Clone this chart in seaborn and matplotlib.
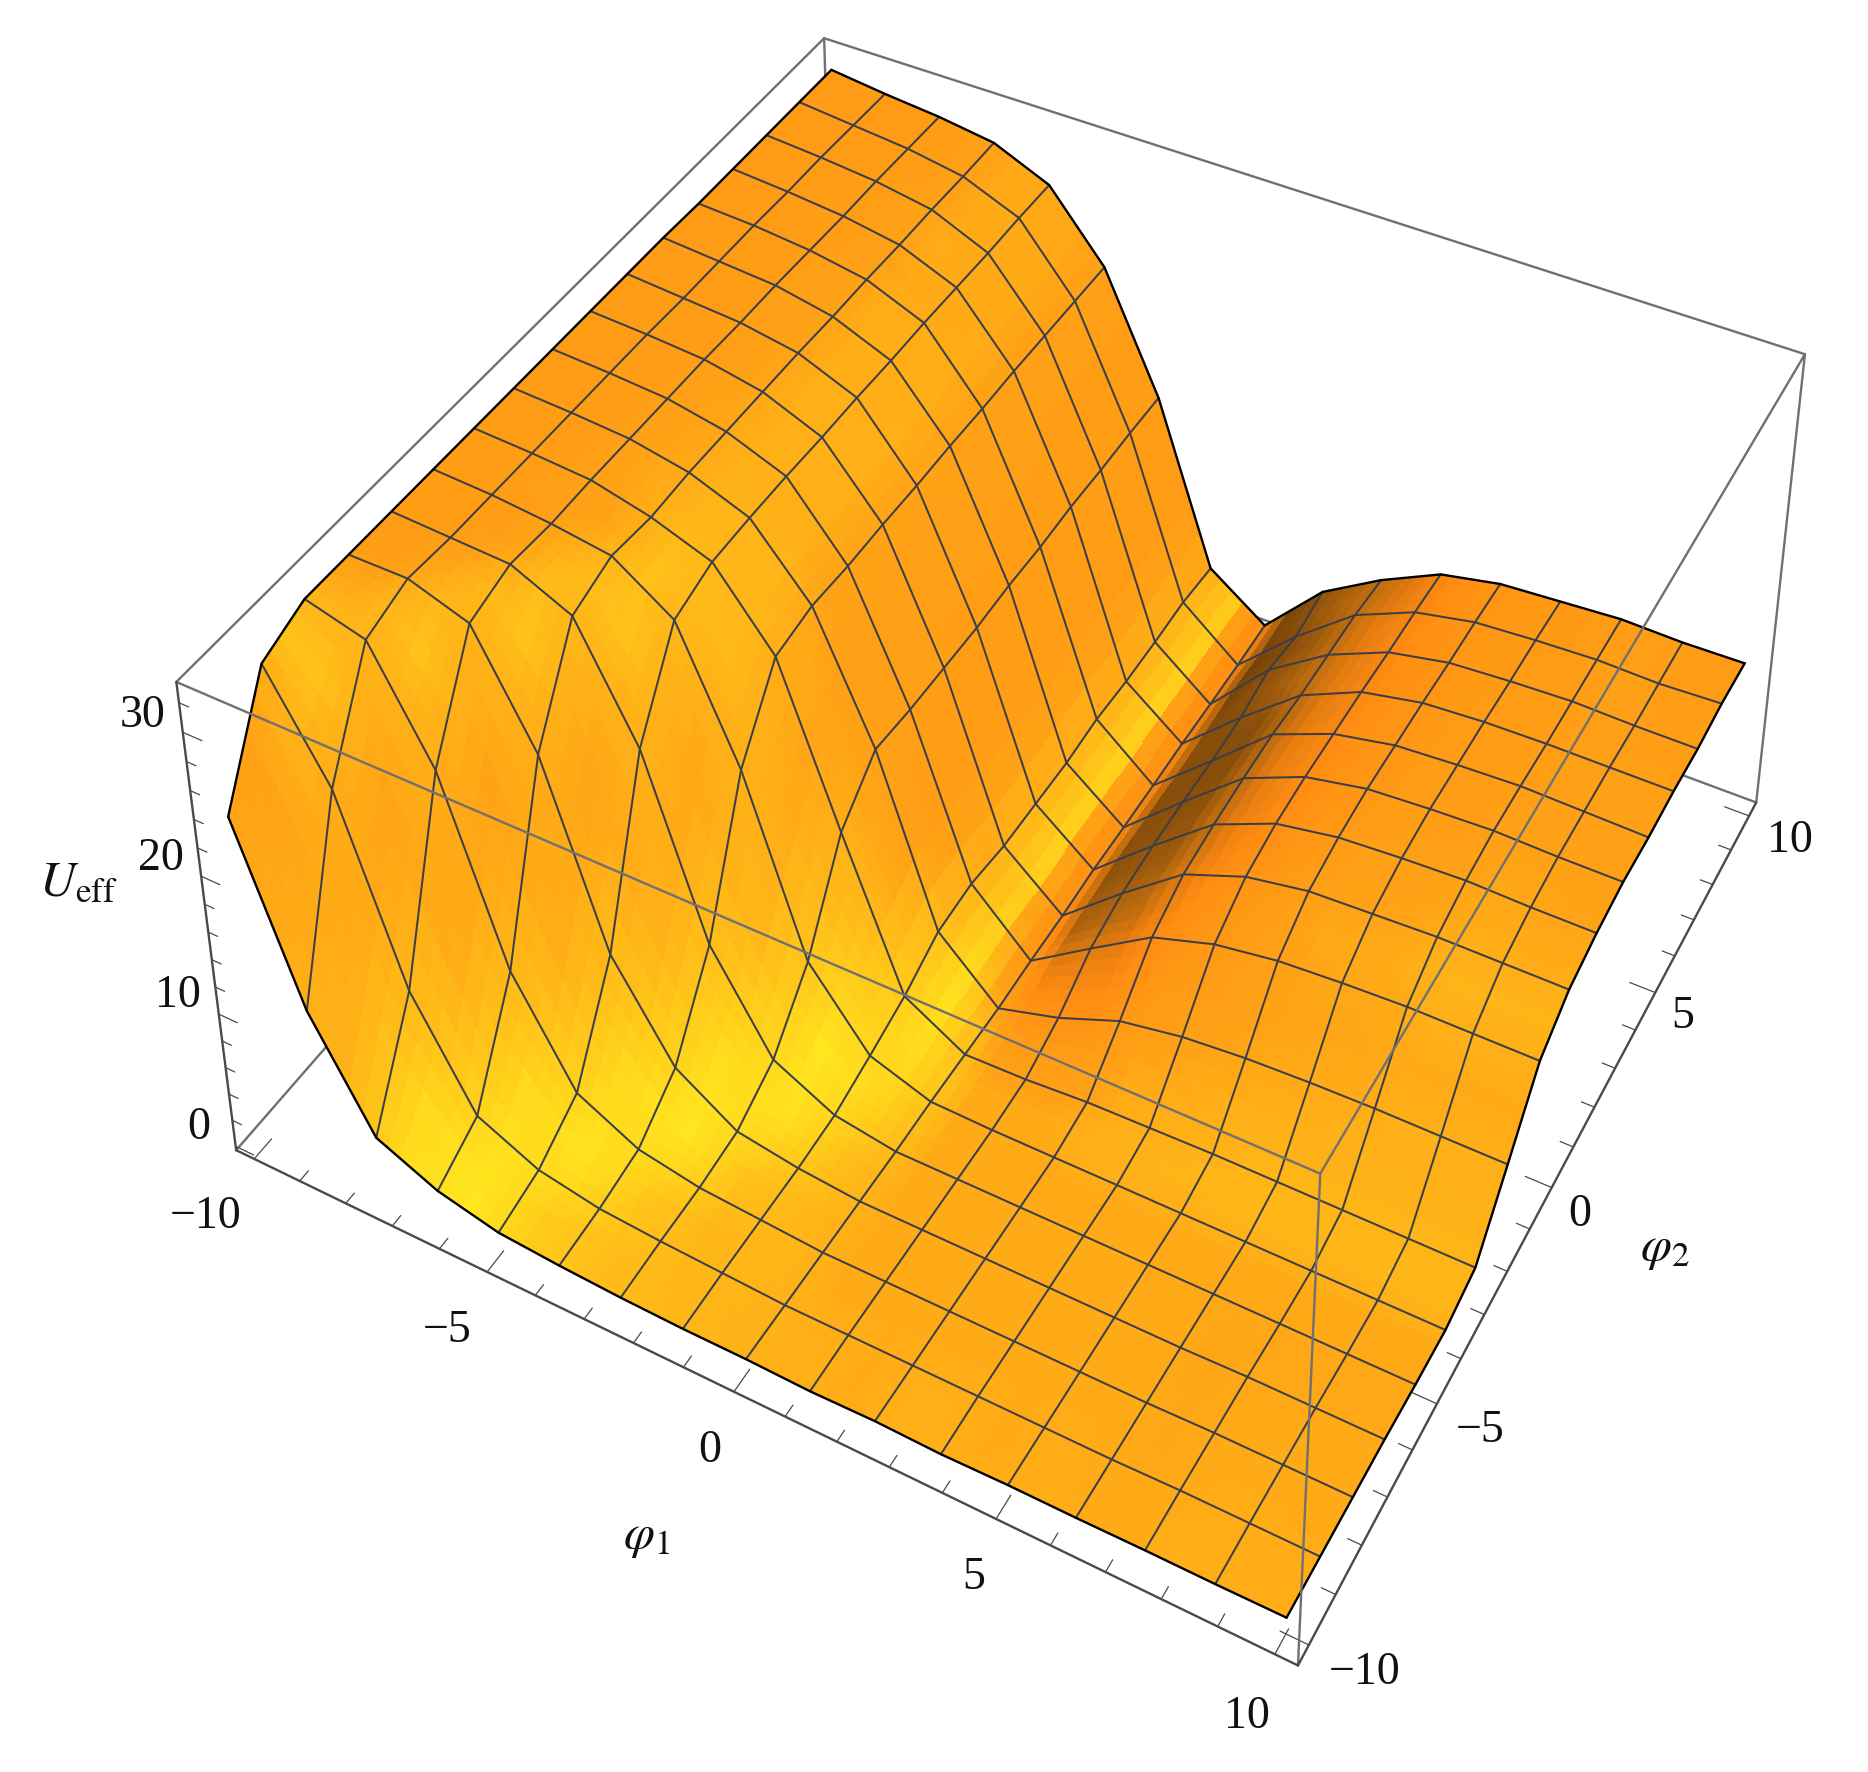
import numpy as np
import matplotlib
matplotlib.use("Agg")
import matplotlib.pyplot as plt
import seaborn as sns

# values, rows are phi2 = -10..10, columns phi1 = -10..10
phi1 = np.linspace(-10, 10, 17)
phi2 = np.linspace(-10, 10, 17)
u_eff = [
    [23.7, 11.7, 4.3, 2.4, 1.4, 1.1, 0.9, 0.8, 0.8, 0.7, 0.8, 0.7, 0.8, 0.8, 0.85, 0.85, 0.9],
    [31.0, 24.1, 11.5, 4.2, 2.2, 1.4, 1.1, 0.9, 0.7, 0.7, 0.7, 0.7, 0.7, 0.7, 0.8, 0.8, 0.8],
    [32.3, 31.2, 23.9, 11.3, 4.2, 2.0, 1.2, 0.9, 0.6, 0.6, 0.6, 0.6, 0.6, 0.6, 0.7, 0.7, 0.7],
    [32.3, 32.3, 30.9, 23.5, 10.9, 4.4, 1.6, 0.9, 0.5, 0.5, 0.5, 0.5, 0.5, 0.5, 0.6, 0.6, 0.6],
    [32.3, 32.1, 31.9, 30.0, 22.4, 10.0, 3.3, 1.1, 0.4, 0.4, 0.4, 0.4, 0.4, 0.4, 0.4, 0.4, 0.4],
    [32.3, 32.1, 31.7, 31.1, 28.3, 19.4, 7.1, 1.9, 0.4, 0.3, 0.3, 0.3, 0.3, 0.3, 0.3, 0.3, 0.3],
    [32.3, 32.1, 31.8, 30.8, 29.3, 24.3, 13.3, 2.8, 0.3, 0.4, 0.7, 0.8, 0.9, 0.9, 0.9, 0.9, 0.9],
    [32.3, 32.1, 31.8, 31.0, 29.4, 24.8, 16.1, 4.2, 0.2, 1.45, 3.2, 4.0, 4.4, 4.6, 4.7, 4.7, 4.7],
    [32.3, 32.1, 31.8, 31.0, 29.4, 24.6, 15.8, 4.4, 0.3, 3.2, 6.0, 7.4, 8.1, 8.4, 8.6, 8.6, 8.6],
    [32.3, 32.1, 31.8, 31.0, 29.3, 24.6, 15.7, 3.9, 0.3, 3.95, 7.3, 9.0, 9.8, 10.0, 10.2, 10.2, 10.2],
    [32.3, 32.0, 31.7, 31.0, 29.3, 24.5, 15.6, 3.8, 0.45, 4.2, 7.7, 9.6, 10.4, 10.7, 10.9, 10.8, 10.8],
    [32.3, 32.0, 31.7, 30.9, 29.2, 24.5, 15.7, 3.7, 0.4, 4.25, 7.9, 9.8, 10.7, 11.0, 11.2, 11.1, 11.1],
    [32.2, 32.0, 31.6, 30.9, 29.2, 24.4, 15.6, 3.9, 0.4, 4.15, 8.0, 9.8, 10.7, 11.0, 11.2, 11.1, 11.0],
    [32.2, 31.9, 31.5, 30.8, 29.1, 24.4, 15.7, 3.7, 0.45, 4.3, 7.8, 9.8, 10.7, 11.0, 11.1, 11.1, 11.1],
    [32.2, 31.9, 31.5, 30.8, 29.0, 24.3, 15.6, 3.7, 0.4, 4.9, 7.8, 9.7, 10.6, 10.9, 11.1, 11.0, 11.0],
    [32.2, 31.8, 31.4, 30.7, 29.0, 24.2, 15.6, 3.8, 0.4, 4.4, 7.8, 9.7, 10.6, 10.9, 11.1, 11.0, 11.2],
    [32.2, 31.7, 31.3, 30.7, 28.9, 24.1, 15.5, 3.5, 0.5, 4.9, 7.5, 9.6, 10.5, 10.8, 11.1, 11.0, 11.1],
]
xticks_major = [-10, -5, 0, 5, 10]
zticks_major = [0, 10, 20, 30]
xlim = (-10.4, 10.4)
ylim = (-10.4, 10.4)
zlim = (-0.3, 33.4)

sns.set_theme(style="white")
plt.rcParams["font.family"] = ["Liberation Serif", "DejaVu Serif"]
plt.rcParams["mathtext.fontset"] = "stix"

W, H = 1868, 1772
fig = plt.figure(figsize=(W / 100, H / 100), dpi=100)
ax = fig.add_axes([0, 0, 1, 1], projection="3d", computed_zorder=False)
ax.set_xlim(*xlim)
ax.set_ylim(*ylim)
ax.set_zlim(*zlim)
ax.set_xticks([])
ax.set_yticks([])
ax.set_zticks([])
ax.set_axis_off()
fig.canvas.draw()
x0, x1 = xlim
y0, y1 = ylim
z0, z1 = zlim

# camera: a projection matrix solved from where the box corners sit in the image
s = W / 1568
world = np.array([(x0, y0, z1), (x1, y0, z1), (x1, y1, z1), (x0, y1, z1),
                  (x0, y0, z0), (x1, y0, z0), (x1, y1, z0)], dtype=float)
image = np.array([(148, 573), (1108, 985), (1515, 297), (692, 32),
                  (198, 965), (1090, 1398), (1474, 674)], dtype=float)
view = ax.transData.inverted().transform(np.c_[image[:, 0] * s, H - image[:, 1] * s])
view_scale = 10.0
world_scale = np.array([0.1, 0.1, 0.03])
rows = []
for (wx, wy, wz), (vx, vy) in zip(world * world_scale, view * view_scale):
    rows.append([wx, wy, wz, 1, 0, 0, 0, 0, -vx * wx, -vx * wy, -vx * wz, -vx])
    rows.append([0, 0, 0, 0, wx, wy, wz, 1, -vy * wx, -vy * wy, -vy * wz, -vy])
P = np.linalg.svd(np.array(rows))[2][-1].reshape(3, 4)
P = np.diag([1 / view_scale, 1 / view_scale, 1]) @ P @ np.diag([*world_scale, 1])
P = P / P[2, 3]
# depth stays negative so mplot3d keeps the lines, and grows away from the viewer
depth = 0.5 * P[2] - np.array([0, 0, 0, 1.0])
ax.get_proj = lambda: np.array([P[0], P[1], depth, P[2]])

X, Y = np.meshgrid(phi1, phi2)
Z = np.array(u_eff)

# colour from the surface slope, one value per mesh cell
dzdx = (Z[:-1, 1:] + Z[1:, 1:] - Z[:-1, :-1] - Z[1:, :-1]) / 2 / 1.25
dzdy = (Z[1:, :-1] + Z[1:, 1:] - Z[:-1, :-1] - Z[:-1, 1:]) / 2 / 1.25
k = 0.3
nx, ny = -k * dzdx, -k * dzdy
norm = np.sqrt(nx ** 2 + ny ** 2 + 1)
# faces turned to -phi1 fall off faster, that is the dark band by the valley
light = (np.where(nx < 0, 0.50, 0.37) * nx - 0.25 * ny + 0.55) / norm
ramp = ["#6b3d08", "#8a4f0b", "#b8690e", "#e57c10", "#ff8c12", "#ff9614", "#ffa216", "#ffc81a", "#ffee20"]
cmap = sns.blend_palette(ramp, as_cmap=True)

# finer facets for smooth shading, they stay on the cells of the table
n_sub = 5
tf = np.linspace(0, 16, 16 * n_sub + 1)
idx = np.arange(17)
Xf, Yf = np.meshgrid(np.interp(tf, idx, phi1), np.interp(tf, idx, phi2))
Zf = np.array([np.interp(tf, idx, row) for row in Z])
Zf = np.array([np.interp(tf, idx, col) for col in Zf.T]).T
centers = (tf[:-1] + tf[1:]) / 2
cc = np.arange(16) + 0.5
Lf = np.array([np.interp(centers, cc, row) for row in light])
Lf = np.array([np.interp(centers, cc, col) for col in Lf.T]).T
dim = 0.0025 * Zf[:-1, :-1] + 0.02 * Yf[:-1, :-1] / 10 + 0.015
colors = cmap(np.clip((Lf - dim + 0.05) / 0.76, 0, 1))

box_grey = "#707070"
axis_grey = "#4a4a4a"
text_col = "#111111"


def seg(a, b, color=box_grey, lw=1.7, zorder=0):
    ax.plot([a[0], b[0]], [a[1], b[1]], [a[2], b[2]], color=color, lw=lw, zorder=zorder, solid_capstyle="round")


# back and bottom edges, under the surface
seg((x0, y1, z1), (x0, y0, z1))
seg((x0, y1, z1), (x1, y1, z1))
seg((x0, y1, z1), (x0, y1, z0))
seg((x1, y1, z1), (x1, y1, z0))
seg((x0, y0, z0), (x0, y1, z0))
seg((x1, y1, z0), (x0, y1, z0))

ax.plot_surface(Xf, Yf, Zf, facecolors=colors, rstride=1, cstride=1, shade=False,
                linewidth=0, antialiased=False, zorder=1)

for i in range(17):
    lw_i, col_i = (1.7, "black") if i in (0, 16) else (1.45, "#3b3f45")
    ax.plot(X[:, i], Y[:, i], Z[:, i], color=col_i, lw=lw_i, zorder=3 if i in (0, 16) else 2)
    ax.plot(X[i, :], Y[i, :], Z[i, :], color=col_i, lw=lw_i, zorder=3 if i in (0, 16) else 2)

# front edges, over the surface
seg((x0, y0, z1), (x1, y0, z1), zorder=4)
seg((x1, y0, z1), (x1, y1, z1), zorder=4)
seg((x1, y0, z1), (x1, y0, z0), zorder=4)
seg((x0, y0, z0), (x1, y0, z0), color=axis_grey, zorder=4)
seg((x1, y0, z0), (x1, y1, z0), color=axis_grey, zorder=4)
seg((x0, y0, z0), (x0, y0, z1), color=axis_grey, zorder=4)

# ticks
for v in np.arange(-10, 11):
    ln = 0.5 if v in xticks_major else 0.25
    seg((v, y0, z0), (v, y0 + ln, z0), color=axis_grey, lw=0.9, zorder=0.5)
    seg((x1, v, z0), (x1 - ln, v, z0), color=axis_grey, lw=0.9, zorder=0.5)
for v in np.arange(0, 33, 2):
    ln = 0.4 if v in zticks_major else 0.2
    seg((x0, y0, v), (x0 + ln, y0, v), color=axis_grey, lw=0.9, zorder=0.5)

# tick labels, each nudged off its tick
fs = 33
x_dx, x_dy = [0.01, 0.10, 0.25, 0.20, 0.08], [-1.40, -1.31, -1.14, -1.1, -1.16]
y_dx, y_dy = [0.97, 0.83, 0.65, 0.65, 0.91], [-0.01, -0.14, -0.30, -0.30, -0.25]
z_dx, z_dy, z_dz = [-0.83, -1.0, -0.97, -0.95], [0, 0.1, 0.1, 0.1], [0, -0.5, -0.5, -0.5]
for n, v in enumerate(xticks_major):
    lab = str(v).replace("-", "\u2212")
    ax.text(v + x_dx[n], y0 + x_dy[n], z0, lab, fontsize=fs, ha="center", va="center", color=text_col)
    ax.text(x1 + y_dx[n], v + y_dy[n], z0, lab, fontsize=fs, ha="center", va="center", color=text_col)
for n, v in enumerate(zticks_major):
    ax.text(x0 + z_dx[n], y0 + z_dy[n], v + z_dz[n], str(v), fontsize=fs, ha="center", va="center", color=text_col)
ax.text(0.2, y0 - 2.98, z0, r"$\varphi_1$", fontsize=36, ha="center", va="center", color=text_col)
ax.text(x1 + 2.21, -0.26, z0, r"$\varphi_2$", fontsize=36, ha="center", va="center", color=text_col)
ax.text(x0 - 1.74, y0 - 1.12, 20, r"$U_{\mathrm{eff}}$", fontsize=36, ha="center", va="center", color=text_col)

fig.savefig("out.png", dpi=100)
